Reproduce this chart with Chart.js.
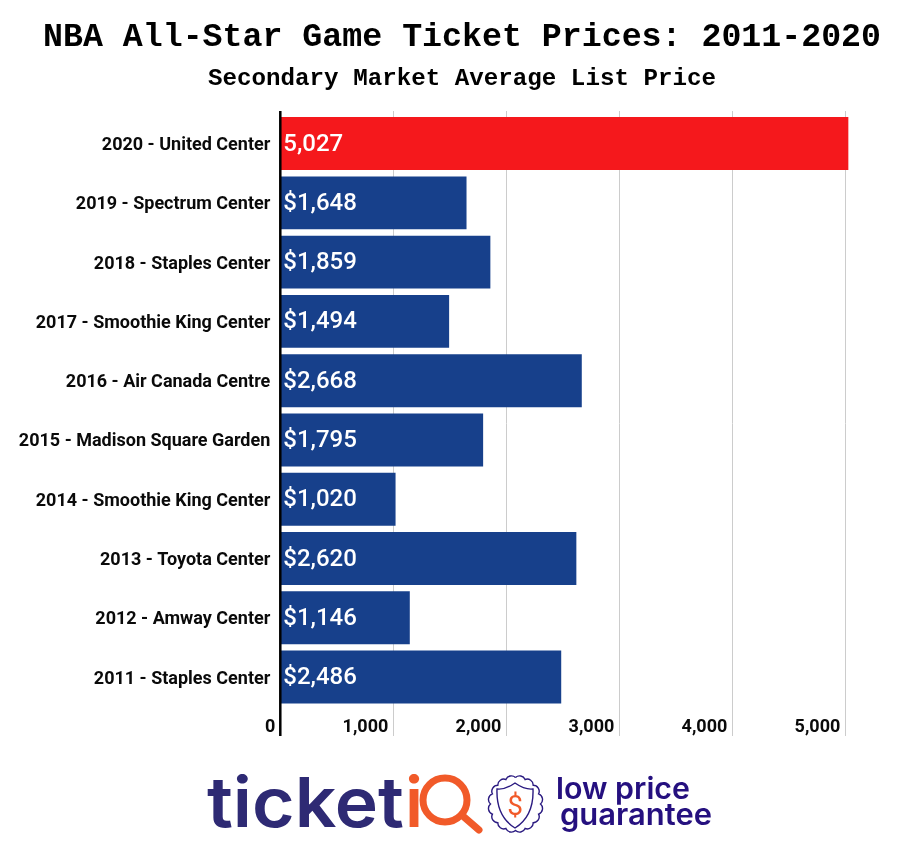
<!DOCTYPE html>
<html>
<head>
<meta charset="utf-8">
<title>NBA All-Star Game Ticket Prices</title>
<script src="https://cdn.jsdelivr.net/npm/chart.js@4"></script>
<style>
  html, body { margin: 0; padding: 0; background: #fff; }
  #wrap { position: relative; width: 921px; height: 868px; overflow: hidden; }
  canvas { display: block; }
  #logo { position: absolute; left: 0; top: 0; }
</style>
</head>
<body>
<div id="wrap">
  <canvas id="ticketChart" width="921" height="868"></canvas>
  <svg id="logo" width="921" height="868" xmlns="http://www.w3.org/2000/svg">
    <text x="207" y="827" font-family="Inter" font-weight="600" font-size="69" fill="#2e2a74" textLength="197" lengthAdjust="spacingAndGlyphs">ticket</text>
    <text x="405" y="827" font-family="Inter" font-weight="600" font-size="69" fill="#f15a29">i</text>
    <circle cx="445" cy="800" r="22" fill="none" stroke="#f15a29" stroke-width="7"/>
    <line x1="464" y1="817" x2="479" y2="830" stroke="#f15a29" stroke-width="7" stroke-linecap="round"/>
    <path id="seal" fill="none" stroke="#2a1a80" stroke-width="1.4"/>
    <path d="M515 783 Q525 790 533 789 Q534 816 515 828 Q496 816 497 789 Q505 790 515 783 Z" fill="none" stroke="#2a1a80" stroke-width="1.4"/>
    <text x="515" y="815" text-anchor="middle" font-family="Roboto" font-size="28" fill="#f15a29">$</text>
    <text x="556" y="799" font-family="Inter" font-weight="600" font-size="30" fill="#25107f" textLength="134" lengthAdjust="spacingAndGlyphs">low price</text>
    <text x="560" y="825" font-family="Inter" font-weight="600" font-size="30" fill="#25107f" textLength="152" lengthAdjust="spacingAndGlyphs">guarantee</text>
  </svg>
</div>
<script>
const venues = [
    '2020 - United Center',
    '2019 - Spectrum Center',
    '2018 - Staples Center',
    '2017 - Smoothie King Center',
    '2016 - Air Canada Centre',
    '2015 - Madison Square Garden',
    '2014 - Smoothie King Center',
    '2013 - Toyota Center',
    '2012 - Amway Center',
    '2011 - Staples Center'
];
const prices = [5027, 1648, 1859, 1494, 2668, 1795, 1020, 2620, 1146, 2486];
const priceLabels = ['5,027', '$1,648', '$1,859', '$1,494', '$2,668', '$1,795', '$1,020', '$2,620', '$1,146', '$2,486'];
const barColors = ['#f5181c', '#17408b', '#17408b', '#17408b', '#17408b', '#17408b', '#17408b', '#17408b', '#17408b', '#17408b'];
const xTickValues = [0, 1000, 2000, 3000, 4000, 5000];

// seal outline around the shield in the logo
let seal = '';
for (let i = 0; i <= 16; i++) {
    const a = i / 16 * Math.PI * 2 - Math.PI / 2;
    const x = (515.5 + 25 * Math.cos(a)).toFixed(1);
    const y = (804 + 26.5 * Math.sin(a)).toFixed(1);
    seal += i === 0 ? `M${x} ${y}` : ` A6 6 0 0 1 ${x} ${y}`;
}
document.getElementById('seal').setAttribute('d', seal);

// gridlines and axis line run a bit past the plot, so they are drawn here
const axisLines = {
    id: 'axisLines',
    beforeDatasetsDraw(chart) {
        const ctx = chart.ctx;
        ctx.save();
        ctx.strokeStyle = '#cccccc';
        ctx.lineWidth = 1;
        xTickValues.forEach(v => {
            if (v === 0) return;
            const x = Math.round(chart.scales.x.getPixelForValue(v)) + 0.5;
            ctx.beginPath();
            ctx.moveTo(x, 111);
            ctx.lineTo(x, 736);
            ctx.stroke();
        });
        ctx.restore();
    },
    afterDatasetsDraw(chart) {
        const ctx = chart.ctx;
        const x = chart.scales.x.getPixelForValue(0);
        ctx.save();
        ctx.strokeStyle = '#000000';
        ctx.lineWidth = 2.5;
        ctx.beginPath();
        ctx.moveTo(x, 111);
        ctx.lineTo(x, 736);
        ctx.stroke();
        ctx.restore();
    }
};

const barLabels = {
    id: 'barLabels',
    afterDatasetsDraw(chart) {
        const ctx = chart.ctx;
        const xStart = chart.scales.x.getPixelForValue(0);
        ctx.save();
        ctx.fillStyle = '#ffffff';
        ctx.font = '500 24px Roboto';
        ctx.textAlign = 'left';
        ctx.textBaseline = 'middle';
        chart.getDatasetMeta(0).data.forEach((bar, i) => {
            ctx.fillText(priceLabels[i], xStart + 3, bar.y + 1);
        });
        ctx.restore();
    }
};

const ctx = document.getElementById('ticketChart').getContext('2d');
const ticketChart = new Chart(ctx, {
    type: 'bar',
    data: {
        labels: venues,
        datasets: [{
            data: prices,
            backgroundColor: barColors,
            categoryPercentage: 1,
            barPercentage: 0.893
        }]
    },
    plugins: [axisLines, barLabels],
    options: {
        indexAxis: 'y',
        responsive: false,
        animation: false,
        devicePixelRatio: 1,
        layout: {
            padding: { left: 3, right: 0, top: 18, bottom: 131.3 }
        },
        plugins: {
            legend: { display: false },
            tooltip: { enabled: false },
            title: {
                display: true,
                text: 'NBA All-Star Game Ticket Prices: 2011-2020',
                color: '#000000',
                font: { family: 'Liberation Mono', size: 33.25, weight: 'bold' },
                padding: { top: 0, bottom: 6 }
            },
            subtitle: {
                display: true,
                text: 'Secondary Market Average List Price',
                color: '#000000',
                font: { family: 'Liberation Mono', size: 24.2, weight: 'bold' },
                padding: { top: 0, bottom: 21 }
            }
        },
        scales: {
            x: {
                min: 0,
                max: 5670,
                grid: { display: false },
                border: { display: false },
                afterBuildTicks(scale) {
                    scale.ticks = xTickValues.map(v => ({ value: v }));
                },
                afterFit(scale) {
                    scale.height = 30;
                },
                ticks: {
                    align: 'end',
                    labelOffset: -5,
                    padding: 2,
                    autoSkip: false,
                    maxRotation: 0,
                    color: '#0a0a0a',
                    font: { family: 'Roboto', size: 18, weight: 'bold' },
                    callback: value => value.toLocaleString('en-US')
                }
            },
            y: {
                grid: { display: false },
                border: { display: false },
                afterFit(scale) {
                    scale.width = 277.3;
                },
                ticks: {
                    padding: 2,
                    labelOffset: 2,
                    autoSkip: false,
                    color: '#0a0a0a',
                    font: { family: 'Roboto', size: 18, weight: 'bold' }
                }
            }
        }
    }
});
</script>
</body>
</html>
